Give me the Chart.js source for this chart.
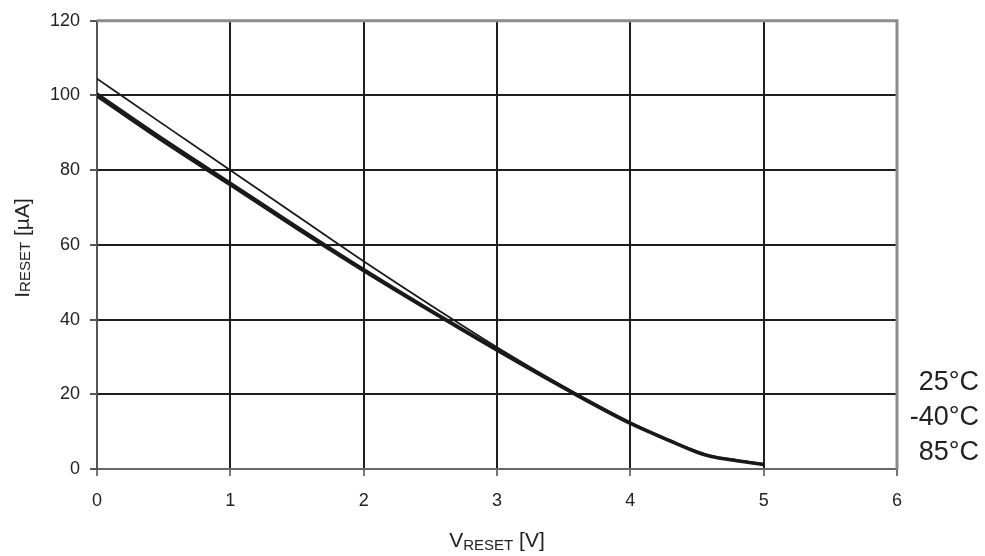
<!DOCTYPE html>
<html>
<head>
<meta charset="utf-8">
<script src="https://cdn.jsdelivr.net/npm/chart.js@4"></script>
<style>
  html, body { margin: 0; padding: 0; background: #fff; }
  #wrap { width: 985px; height: 556px; }
</style>
</head>
<body>
<div id="wrap"><canvas id="myChart" width="985" height="556"></canvas></div>
<script>
// V_RESET [V]
const voltage = [0, 0.5, 1, 1.5, 2, 2.5, 3, 3.5, 4, 4.3, 4.5, 4.6, 4.8, 5];
// I_RESET [µA] per temperature
const i25 = [104.5, 92.2, 80, 67.8, 55.6, 43.9, 32.6, 22.1, 12.5, 7.7, 4.8, 3.6, 2.4, 1.4];
const iMinus40 = [100.5, 88.3, 76.6, 64.9, 53.5, 42.6, 32.1, 21.9, 12.4, 7.6, 4.6, 3.5, 2.3, 1.3];
const i85 = [99.8, 87.6, 76.0, 64.3, 53.0, 42.2, 31.7, 21.6, 12.1, 7.4, 4.4, 3.3, 2.1, 1.1];
const seriesNames = ['25°C', '-40°C', '85°C'];
const xTicks = [0, 1, 2, 3, 4, 5, 6];
const yTicks = [0, 20, 40, 60, 80, 100, 120];

const toPoints = arr => voltage.map((v, i) => ({ x: v, y: arr[i] }));

const FONT = '"Liberation Sans", Arial, sans-serif';

// frame, axis titles with subscript, right-side temperature labels
const extras = {
    id: 'extras',
    beforeDatasetsDraw(chart) {
        const { ctx, chartArea: a } = chart;
        ctx.save();
        ctx.strokeStyle = '#8c8c8c';
        ctx.lineWidth = 3;
        ctx.beginPath();
        ctx.moveTo(a.left, a.top);
        ctx.lineTo(a.right, a.top);
        ctx.lineTo(a.right, a.bottom);
        ctx.stroke();
        ctx.restore();
    },
    afterDraw(chart) {
        const { ctx, chartArea: a } = chart;
        ctx.save();
        ctx.fillStyle = '#222';
        ctx.textBaseline = 'alphabetic';

        // x title: V_RESET [V]
        const big = '21px ' + FONT, small = '15px ' + FONT;
        ctx.font = big;
        const wV = ctx.measureText('V').width;
        const wB = ctx.measureText(' [V]').width;
        ctx.font = small;
        const wS = ctx.measureText('RESET').width;
        let x = (a.left + a.right) / 2 - (wV + wS + wB) / 2;
        const y = 547;
        ctx.font = big; ctx.fillText('V', x, y); x += wV;
        ctx.font = small; ctx.fillText('RESET', x, y + 3); x += wS;
        ctx.font = big; ctx.fillText(' [V]', x, y);

        // y title: I_RESET [µA]
        ctx.translate(29, 248);
        ctx.rotate(-Math.PI / 2);
        ctx.font = big;
        const wI = ctx.measureText('I').width;
        const wU = ctx.measureText(' [µA]').width;
        ctx.font = small;
        const wR = ctx.measureText('RESET').width;
        let t = -(wI + wR + wU) / 2;
        ctx.font = big; ctx.fillText('I', t, 0); t += wI;
        ctx.font = small; ctx.fillText('RESET', t, 1); t += wR;
        ctx.font = big; ctx.fillText(' [µA]', t, 0);
        ctx.restore();

        // temperature labels
        ctx.save();
        ctx.font = '27px ' + FONT;
        ctx.fillStyle = '#222';
        ctx.textAlign = 'right';
        ctx.textBaseline = 'middle';
        const ys = [383, 418, 453];
        seriesNames.forEach((n, i) => ctx.fillText(n, 979, ys[i]));
        ctx.restore();
    }
};

const ctx = document.getElementById('myChart').getContext('2d');

new Chart(ctx, {
    type: 'line',
    data: {
        datasets: [
            { label: seriesNames[0], data: toPoints(i25), borderColor: '#1a1a1a', borderWidth: 1.8 },
            { label: seriesNames[1], data: toPoints(iMinus40), borderColor: '#1a1a1a', borderWidth: 2.8 },
            { label: seriesNames[2], data: toPoints(i85), borderColor: '#1a1a1a', borderWidth: 2.8 }
        ].map(d => Object.assign(d, { pointRadius: 0, fill: false, tension: 0.3, cubicInterpolationMode: 'monotone' }))
    },
    options: {
        responsive: false,
        animation: false,
        layout: { padding: { top: 18, right: 88, left: 0, bottom: 0 } },
        plugins: { legend: { display: false }, tooltip: { enabled: false } },
        scales: {
            x: {
                type: 'linear',
                min: 0, max: 6,
                afterBuildTicks: s => { s.ticks = xTicks.map(v => ({ value: v })); },
                afterFit: s => { s.height = 87; },
                ticks: { color: '#222', font: { size: 18, family: FONT }, padding: 14 },
                grid: {
                    color: c => (c.tick && (c.tick.value === 0 || c.tick.value === 6)) ? 'rgba(0,0,0,0)' : '#1e1e1e',
                    lineWidth: 2,
                    tickColor: '#777',
                    tickLength: 7
                },
                border: { color: '#666', width: 2 }
            },
            y: {
                min: 0, max: 120,
                afterBuildTicks: s => { s.ticks = yTicks.map(v => ({ value: v })); },
                afterFit: s => { s.width = 97; },
                ticks: { color: '#222', font: { size: 18, family: FONT }, padding: 10 },
                grid: {
                    color: c => (c.tick && (c.tick.value === 0 || c.tick.value === 120)) ? 'rgba(0,0,0,0)' : '#1e1e1e',
                    lineWidth: 2,
                    tickColor: '#555',
                    tickLength: 7
                },
                border: { color: '#555', width: 2 }
            }
        }
    },
    plugins: [extras]
});
</script>
</body>
</html>
